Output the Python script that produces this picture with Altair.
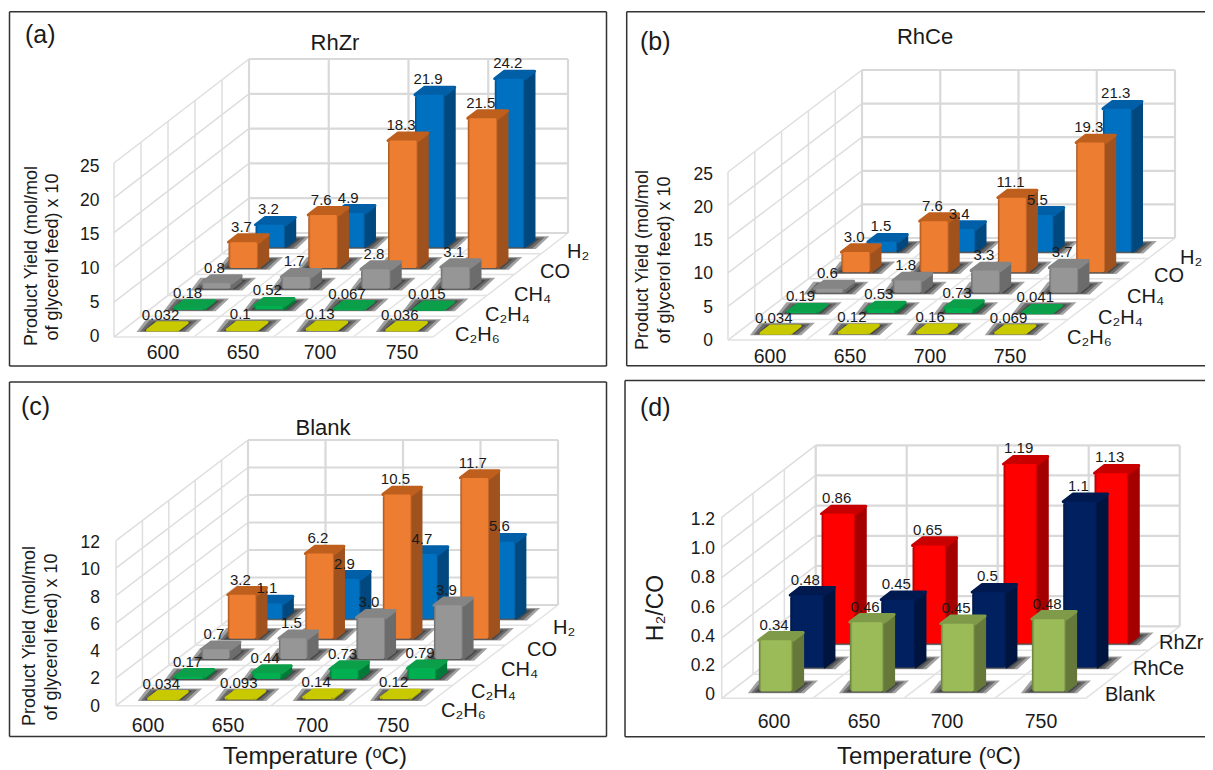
import altair as alt
import pandas as pd

temperatures = ["600", "650", "700", "750"]
gas_names = ["C₂H₆", "C₂H₄", "CH₄", "CO", "H₂"]
catalyst_names = ["Blank", "RhCe", "RhZr"]

rhzr_c2h6 = [0.032, 0.1, 0.13, 0.036]
rhzr_c2h4 = [0.18, 0.52, 0.067, 0.015]
rhzr_ch4 = [0.8, 1.7, 2.8, 3.1]
rhzr_co = [3.7, 7.6, 18.3, 21.5]
rhzr_h2 = [3.2, 4.9, 21.9, 24.2]

rhce_c2h6 = [0.034, 0.12, 0.16, 0.069]
rhce_c2h4 = [0.19, 0.53, 0.73, 0.041]
rhce_ch4 = [0.6, 1.8, 3.3, 3.7]
rhce_co = [3.0, 7.6, 11.1, 19.3]
rhce_h2 = [1.5, 3.4, 5.5, 21.3]

blank_c2h6 = [0.034, 0.093, 0.14, 0.12]
blank_c2h4 = [0.17, 0.44, 0.73, 0.79]
blank_ch4 = [0.7, 1.5, 3.0, 3.9]
blank_co = [3.2, 6.2, 10.5, 11.7]
blank_h2 = [1.1, 2.9, 4.7, 5.6]

ratio_blank = [0.34, 0.46, 0.45, 0.48]
ratio_rhce = [0.48, 0.45, 0.5, 1.1]
ratio_rhzr = [0.86, 0.65, 1.19, 1.13]

YELLOW = ("#CCCC00", "#8F8F00", "#C9C900")
GREEN = ("#00B050", "#007A38", "#0C9F4A")
GRAY = ("#969696", "#6C6C6C", "#858585")
ORANGE = ("#ED7D31", "#A0521E", "#BF5F1E")
BLUE = ("#0070C0", "#00487E", "#005FA6")
RED = ("#FF0000", "#A50000", "#C80000")
NAVY = ("#002060", "#001440", "#001A50")
LIME = ("#9BBB59", "#66793A", "#7F9A48")

FONT = "Liberation Sans"

panels = [
    dict(tag="(a)", tag_xy=(25, 35), title="RhZr", title_xy=(335, 43),
         x0=114, y0=337, w=319, dx=135, dy=104, top=25, vh=174, step=5,
         rows=[rhzr_c2h6, rhzr_c2h4, rhzr_ch4, rhzr_co, rhzr_h2],
         colors=[YELLOW, GREEN, GRAY, ORANGE, BLUE], d0=0.32, th=0.36,
         names=gas_names,
         name_xy=[(455, 335), (485, 315), (514, 295), (540, 272), (567, 252)],
         tick_x=99.5, tick_0=337, tick_span=170,
         cat_x=[163, 243, 320, 402], cat_y=353,
         ylab=[("Product Yield (mol/mol", 32, 256), ("of glycerol feed) x 10", 53, 257)]),
    dict(tag="(b)", tag_xy=(640, 42), title="RhCe", title_xy=(925, 37),
         x0=728, y0=340, w=313, dx=134, dy=102, top=25, vh=168, step=5,
         rows=[rhce_c2h6, rhce_c2h4, rhce_ch4, rhce_co, rhce_h2],
         colors=[YELLOW, GREEN, GRAY, ORANGE, BLUE], d0=0.32, th=0.36,
         names=gas_names,
         name_xy=[(1067, 338), (1098, 318), (1127, 297), (1154, 276), (1180, 258)],
         tick_x=713, tick_0=340.7, tick_span=165.7,
         cat_x=[770, 850, 930, 1010], cat_y=357,
         ylab=[("Product Yield (mol/mol", 643, 260), ("of glycerol feed) x 10", 665, 260)]),
    dict(tag="(c)", tag_xy=(21, 407), title="Blank", title_xy=(323, 428),
         x0=116, y0=705.7, w=310, dx=132, dy=100.7, top=12, vh=165, step=2,
         rows=[blank_c2h6, blank_c2h4, blank_ch4, blank_co, blank_h2],
         colors=[YELLOW, GREEN, GRAY, ORANGE, BLUE], d0=0.32, th=0.36,
         names=gas_names,
         name_xy=[(441, 711), (471, 692), (501, 670), (527, 650), (553, 628)],
         tick_x=100, tick_0=706.7, tick_span=163.7,
         cat_x=[148, 228, 312, 393], cat_y=726,
         ylab=[("Product Yield (mol/mol", 30, 636), ("of glycerol feed) x 10", 52, 637)]),
    dict(tag="(d)", tag_xy=(640, 408), title=None, title_xy=None,
         x0=721.7, y0=698.3, w=364, dx=94, dy=72, top=1.2, vh=181, step=0.2,
         rows=[ratio_blank, ratio_rhce, ratio_rhzr],
         colors=[LIME, NAVY, RED], d0=0.28, th=0.32,
         names=catalyst_names,
         name_xy=[(1105, 695), (1133, 669), (1159, 643)],
         tick_x=715, tick_0=695, tick_span=175,
         cat_x=[774, 864, 947, 1041], cat_y=722,
         ylab=[]),
]

x_scale = alt.Scale(domain=[8, 1205], nice=False, zero=False)
y_scale = alt.Scale(domain=[770, 8], nice=False, zero=False)
X = alt.X("x:Q", scale=x_scale, axis=None)
Y = alt.Y("y:Q", scale=y_scale, axis=None)


def proj(p, c, d, v=0.0):
    n = len(p["rows"])
    return (p["x0"] + c * p["w"] / 4 + d * p["dx"] / n,
            p["y0"] - d * p["dy"] / n - v * p["vh"] / p["top"])


grid_wall, grid_side, grid_floor = [], [], []
shadow, text_rows = [], []
bar_layers = []
gid = 0


def add_line(store, a, b):
    global gid
    gid += 1
    store.append(dict(x=a[0], y=a[1], g=gid))
    store.append(dict(x=b[0], y=b[1], g=gid))


for pi, p in enumerate(panels):
    n = len(p["rows"])
    levels = round(p["top"] / p["step"])
    for k in range(levels + 1):
        v = k * p["step"]
        add_line(grid_wall, proj(p, 0, n, v), proj(p, 4, n, v))
        add_line(grid_side, proj(p, 0, 0, v), proj(p, 0, n, v))
        text_rows.append(dict(x=p["tick_x"], y=p["tick_0"] - k / levels * p["tick_span"],
                              t=f"{v:.1f}" if p["step"] < 1 and k else f"{v:g}", kind="tick"))
    for c in range(5):
        add_line(grid_wall, proj(p, c, n, 0), proj(p, c, n, p["top"]))
        add_line(grid_floor, proj(p, c, 0), proj(p, c, n))
    for d in range(n + 1):
        add_line(grid_side, proj(p, 0, d, 0), proj(p, 0, d, p["top"]))
        add_line(grid_floor, proj(p, 0, d), proj(p, 4, d))

    half = 0.188
    for si in range(n - 1, -1, -1):
        vals, col = p["rows"][si], p["colors"][si]
        fronts, sides, tops = [], [], []
        for ci, val in enumerate(vals):
            c = ci + 0.5
            d0, d1 = si + p["d0"], si + p["d0"] + p["th"]
            fl = proj(p, c - half, d0)
            fr = proj(p, c + half, d0)
            bl = proj(p, c - half, d1)
            br = proj(p, c + half, d1)
            h = val * p["vh"] / p["top"]
            fronts.append(dict(x=fl[0], x2=fr[0], y=fl[1], y2=fl[1] - h))
            gid += 1
            sides += [dict(x=fr[0], y=fr[1], y2=fr[1] - h, g=gid),
                      dict(x=br[0], y=br[1], y2=br[1] - h, g=gid)]
            gid += 1
            tops += [dict(y=fl[1] - h, x=fl[0], x2=fr[0], g=gid),
                     dict(y=bl[1] - h, x=bl[0], x2=br[0], g=gid)]
            for e, a in ((11, 3.5), (7.5, 2.5), (4, 1.2)):
                gid += 1
                shadow += [dict(y=fl[1] + a * 0.5, x=fl[0] - e, x2=fr[0] + e, g=gid),
                           dict(y=bl[1] - a, x=bl[0] - e, x2=br[0] + e * 1.35, g=gid)]
            text_rows.append(dict(x=(fl[0] + fr[0]) / 2 - 2, y=bl[1] - h - 8,
                                  t=str(val), kind="value"))
        bar_layers.append((col, fronts, sides, tops))

    tx, ty = p["tag_xy"]
    text_rows.append(dict(x=tx, y=ty, t=p["tag"], kind="tag"))
    if p["title"]:
        text_rows.append(dict(x=p["title_xy"][0], y=p["title_xy"][1], t=p["title"], kind="title"))
    for name, (nx, ny) in zip(p["names"], p["name_xy"]):
        text_rows.append(dict(x=nx, y=ny, t=name, kind="series"))
    for t, cx in zip(temperatures, p["cat_x"]):
        text_rows.append(dict(x=cx, y=p["cat_y"], t=t, kind="cat"))
    for t, lx, ly in p["ylab"]:
        text_rows.append(dict(x=lx, y=ly, t=t, kind="ylab"))

text_rows.append(dict(x=656, y=608, t="H₂/CO", kind="ratio"))
text_rows.append(dict(x=315, y=757, t="Temperature (ᵒC)", kind="xlab"))
text_rows.append(dict(x=929, y=757, t="Temperature (ᵒC)", kind="xlab"))

frame_rows = [
    dict(x=9.5, x2=606.5, y=11.7), dict(x=9.5, x2=606.5, y=366),
    dict(x=9.5, x2=606.5, y=382), dict(x=9.5, x2=606.5, y=736.5),
    dict(x=626.7, x2=1205, y=11.7), dict(x=626.7, x2=1205, y=365.7),
    dict(x=625, x2=1205, y=380.5), dict(x=625, x2=1205, y=736.7),
]
frame_cols = [
    dict(x=9.5, y=11.7, y2=366), dict(x=606.5, y=11.7, y2=366),
    dict(x=9.5, y=382, y2=736.5), dict(x=606.5, y=382, y2=736.5),
    dict(x=626.7, y=11.7, y2=365.7), dict(x=625, y=380.5, y2=736.7),
]


def line_layer(rows, color, width):
    return alt.Chart(pd.DataFrame(rows)).mark_line(
        color=color, strokeWidth=width, clip=False
    ).encode(x=X, y=Y, detail="g:N", order="o:Q").transform_calculate(o="datum.g")


def text_layer(kind, size, align="center", angle=0, color="#1a1a1a"):
    rows = [r for r in text_rows if r["kind"] == kind]
    return alt.Chart(pd.DataFrame(rows)).mark_text(
        font=FONT, fontSize=size, align=align, baseline="middle", angle=angle, color=color
    ).encode(x=X, y=Y, text="t:N")


layers = [
    alt.Chart(pd.DataFrame(frame_rows)).mark_rule(color="#333333", strokeWidth=1.5).encode(
        x=X, x2="x2:Q", y=Y),
    alt.Chart(pd.DataFrame(frame_cols)).mark_rule(color="#333333", strokeWidth=1.5).encode(
        x=X, y=Y, y2="y2:Q"),
    line_layer(grid_side, "#dedede", 1.5),
    line_layer(grid_floor, "#e2e2e2", 1.5),
    line_layer(grid_wall, "#d9d9d9", 2.2),
    alt.Chart(pd.DataFrame(shadow)).mark_area(
        orient="horizontal", fill="#1e1e1e", fillOpacity=0.42
    ).encode(y=Y, x=X, x2="x2:Q", detail="g:N"),
]

for col, fronts, sides, tops in bar_layers:
    main, dark, top = col
    edge = alt.Gradient(
        gradient="linear", x1=0, x2=1, y1=0, y2=0,
        stops=[alt.GradientStop(color=dark, offset=0),
               alt.GradientStop(color=main, offset=0.08),
               alt.GradientStop(color=main, offset=0.93),
               alt.GradientStop(color=dark, offset=1)])
    layers.append(alt.Chart(pd.DataFrame(sides)).mark_area(
        orient="vertical", color=dark, stroke=dark, strokeWidth=2, strokeJoin="round"
    ).encode(x=X, y=Y, y2="y2:Q", detail="g:N"))
    layers.append(alt.Chart(pd.DataFrame(tops)).mark_area(
        orient="horizontal", color=top, stroke=top, strokeWidth=3, strokeJoin="round"
    ).encode(y=Y, x=X, x2="x2:Q", detail="g:N"))
    layers.append(alt.Chart(pd.DataFrame(fronts)).mark_rect(
        color=edge, cornerRadius=3
    ).encode(x=X, x2="x2:Q", y=Y, y2="y2:Q"))

layers += [
    text_layer("tick", 17.5, align="right"),
    text_layer("cat", 19.5),
    text_layer("value", 15),
    text_layer("series", 20, align="left"),
    text_layer("tag", 25, align="left"),
    text_layer("title", 22),
    text_layer("ylab", 18, angle=270),
    text_layer("ratio", 23, angle=270),
    text_layer("xlab", 24),
]

chart = alt.layer(*layers).properties(
    width=1197, height=762, padding=0,
    autosize=alt.AutoSizeParams(type="none"),
    background="white",
).configure_view(stroke=None)

chart.save("out.html", embed_options={"renderer": "svg", "actions": False})
